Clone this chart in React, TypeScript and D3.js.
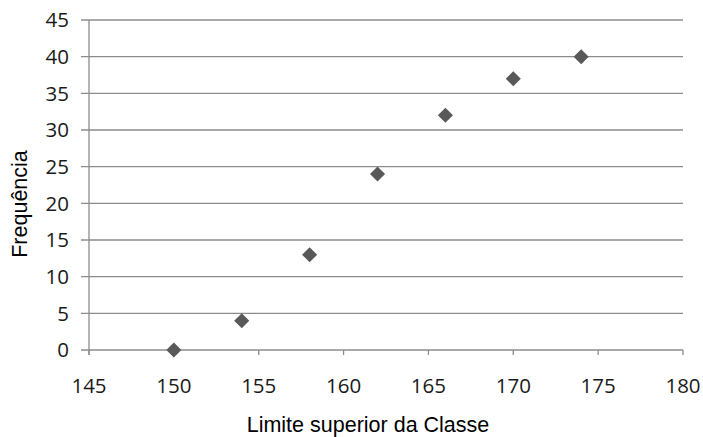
import React from "react";
import * as d3 from "d3";

const xValues = [150, 154, 158, 162, 166, 170, 174];
const yValues = [0, 4, 13, 24, 32, 37, 40];
const xTicks = [145, 150, 155, 160, 165, 170, 175, 180];
const yTicks = [0, 5, 10, 15, 20, 25, 30, 35, 40, 45];

export default function App() {
  const W = 703, H = 437;
  const left = 89, right = 683, top = 20, bottom = 350;
  const x = d3.scaleLinear().domain([145, 180]).range([left, right]);
  const y = d3.scaleLinear().domain([0, 45]).range([bottom, top]);
  const tickFont = "'Open Sans', 'Liberation Sans', sans-serif";
  const titleFont = "'Liberation Sans', Arial, sans-serif";
  const diamond = d3.symbol().type(d3.symbolDiamond2 ?? d3.symbolDiamond).size(145)();
  return (
    <svg width={W} height={H} style={{ position: "absolute", left: 0, top: 0 }}>
      <rect width={W} height={H} fill="#fff" />
      {yTicks.map((t) => (
        <g key={t}>
          <line x1={left - 8} x2={right} y1={y(t)} y2={y(t)} stroke="#8c8c8c" strokeWidth={1.3} />
          <text x={69} y={y(t)} dy="0.36em" textAnchor="end" fontSize={20.5} fontFamily={tickFont} fill="#1a1a1a">{t}</text>
        </g>
      ))}
      <line x1={left} x2={left} y1={top} y2={bottom + 5} stroke="#8c8c8c" strokeWidth={1.3} />
      {xTicks.map((t) => (
        <g key={t}>
          <line x1={x(t)} x2={x(t)} y1={bottom} y2={bottom + 5} stroke="#8c8c8c" strokeWidth={1.3} />
          <text x={x(t)} y={393} textAnchor="middle" fontSize={20.5} fontFamily={tickFont} fill="#1a1a1a">{t}</text>
        </g>
      ))}
      {xValues.map((v, i) => (
        <path key={v} d={diamond!} transform={`translate(${x(v)},${y(yValues[i])})`} fill="#595959" />
      ))}
      <text x={368} y={432} textAnchor="middle" fontSize={21.5} fontFamily={titleFont} fill="#000">Limite superior da Classe</text>
      <text transform={`translate(27,204) rotate(-90)`} textAnchor="middle" fontSize={21.5} fontFamily={titleFont} fill="#000">Frequência</text>
    </svg>
  );
}
